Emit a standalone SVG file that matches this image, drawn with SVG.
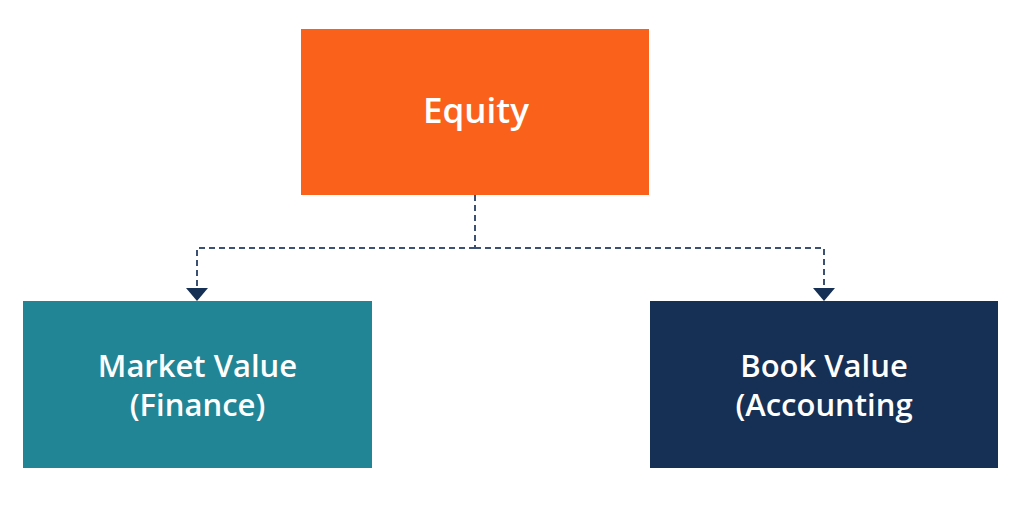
<svg xmlns="http://www.w3.org/2000/svg" width="1024" height="505" viewBox="0 0 1024 505">
  <style>
    .lbl { font-family: "Open Sans", "Liberation Sans", sans-serif; font-weight: 600; fill: #ffffff; text-anchor: middle; }
    .conn { fill: none; stroke: #3b5174; stroke-width: 2; stroke-dasharray: 6 4; }
    .head { fill: #162f55; }
  </style>
  <rect width="1024" height="505" fill="#ffffff"/>
  <g id="connectors">
    <path class="conn" d="M475,195 V248"/>
    <path class="conn" d="M475,248 H197 V288"/>
    <path class="conn" d="M475,248 H824 V288"/>
    <path class="head" d="M186,288 L208,288 L197,301 Z"/>
    <path class="head" d="M813,288 L835,288 L824,301 Z"/>
  </g>
  <g id="equity">
    <rect x="301" y="29" width="348" height="166" fill="#fa621c"/>
    <text class="lbl" x="476" y="123" font-size="35">Equity</text>
  </g>
  <g id="market-value">
    <rect x="23" y="301" width="349" height="167" fill="#218596"/>
    <text class="lbl" x="197.5" y="377" font-size="31">Market Value</text>
    <text class="lbl" x="197.5" y="416" font-size="31">(Finance)</text>
  </g>
  <g id="book-value">
    <rect x="650" y="301" width="348" height="167" fill="#162f55"/>
    <text class="lbl" x="824" y="377" font-size="31">Book Value</text>
    <text class="lbl" x="824" y="416" font-size="31">(Accounting</text>
  </g>
</svg>
